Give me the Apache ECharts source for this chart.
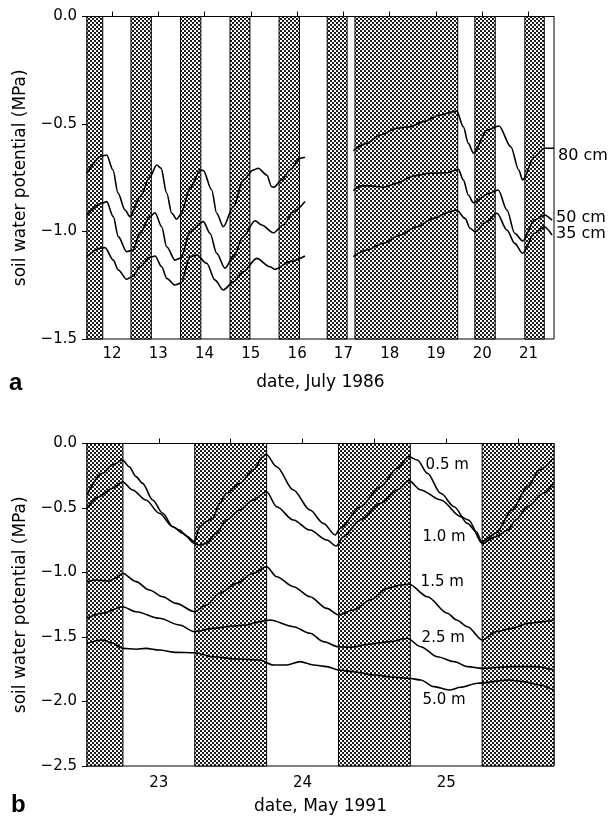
<!DOCTYPE html>
<html><head><meta charset="utf-8">
<script src="https://cdn.jsdelivr.net/npm/echarts@6/dist/echarts.min.js"></script>
<style>html,body{margin:0;padding:0;background:#fff}#c{width:616px;height:816px}</style>
</head><body><div id="c"></div>
<script>
// ---------- Panel a: July 1986 ----------
const aTickDays = [12,13,14,15,16,17,18,19,20,21];
const aNights = [[11.46,11.80],[12.41,12.85],[13.48,13.92],[14.55,14.98],[15.61,16.05],[16.65,17.08],[17.25,19.47],[19.84,20.28],[20.92,21.34]];
const a80cm_1 = [[11.46,-0.729],[11.777,-0.649],[11.885,-0.644],[12.022,-0.714],[12.13,-0.821],[12.281,-0.9],[12.389,-0.931],[12.605,-0.838],[12.821,-0.745],[12.966,-0.691],[13.059,-0.705],[13.182,-0.821],[13.29,-0.914],[13.398,-0.943],[13.491,-0.919],[13.685,-0.799],[13.91,-0.714],[13.973,-0.717],[14.154,-0.807],[14.262,-0.915],[14.405,-0.978],[14.621,-0.885],[14.837,-0.76],[15.053,-0.714],[15.161,-0.706],[15.343,-0.737],[15.451,-0.792],[15.5,-0.794],[15.667,-0.76],[15.846,-0.714],[16.062,-0.66],[16.17,-0.655]];
const a80cm_2 = [[17.214,-0.624],[17.503,-0.59],[17.791,-0.551],[18.152,-0.52],[18.439,-0.513],[18.726,-0.489],[19.087,-0.458],[19.448,-0.44],[19.591,-0.513],[19.699,-0.59],[19.811,-0.636],[20.107,-0.528],[20.362,-0.509],[20.617,-0.606],[20.788,-0.714],[20.872,-0.76],[21.127,-0.652],[21.339,-0.613],[21.55,-0.613]];
const a50cm_1 = [[11.46,-0.923],[11.777,-0.869],[11.885,-0.861],[12.028,-0.931],[12.136,-1.024],[12.318,-1.094],[12.454,-1.086],[12.605,-1.008],[12.821,-0.931],[12.929,-0.913],[13.074,-0.978],[13.182,-1.071],[13.361,-1.133],[13.491,-1.123],[13.685,-1.001],[13.973,-0.954],[14.118,-1.008],[14.262,-1.101],[14.442,-1.171],[14.621,-1.117],[14.837,-1.024],[15.09,-0.95],[15.235,-0.97],[15.485,-1.006],[15.701,-0.97],[15.917,-0.908],[16.17,-0.861]];
const a50cm_2 = [[17.214,-0.81],[17.395,-0.788],[17.575,-0.788],[17.862,-0.794],[18.152,-0.776],[18.51,-0.742],[18.871,-0.729],[19.232,-0.727],[19.483,-0.711],[19.591,-0.76],[19.699,-0.83],[19.807,-0.866],[20.15,-0.822],[20.345,-0.807],[20.533,-0.9],[20.701,-1.008],[20.872,-1.044],[21.127,-0.947],[21.339,-0.923],[21.507,-0.947]];
const a35cm_1 = [[11.46,-1.117],[11.741,-1.078],[11.849,-1.075],[12.028,-1.133],[12.136,-1.179],[12.318,-1.222],[12.454,-1.207],[12.605,-1.164],[12.821,-1.12],[12.929,-1.114],[13.074,-1.164],[13.182,-1.218],[13.361,-1.249],[13.491,-1.24],[13.685,-1.117],[13.83,-1.109],[14.046,-1.148],[14.226,-1.226],[14.405,-1.272],[14.621,-1.234],[14.837,-1.187],[15.127,-1.125],[15.414,-1.164],[15.522,-1.176],[15.846,-1.14],[16.17,-1.114]];
const a35cm_2 = [[17.214,-1.117],[17.503,-1.086],[17.862,-1.055],[18.223,-1.016],[18.584,-0.978],[18.943,-0.939],[19.303,-0.908],[19.448,-0.9],[19.628,-0.939],[19.736,-0.985],[19.844,-1.001],[20.082,-0.956],[20.319,-0.915],[20.533,-0.993],[20.701,-1.055],[20.872,-1.101],[21.127,-1.008],[21.339,-0.978],[21.507,-1.016]];

// ---------- Panel b: May 1991 ----------
const bTickDays = [23,24,25];
const bMinorTicks = [23,23.5,24,24.5,25,25.5];
const bNights = [[22.5,22.75],[23.25,23.75],[24.25,24.75],[25.25,25.75]];
const b05m = [[22.5,-0.399],[22.607,-0.231],[22.677,-0.167],[22.747,-0.128],[22.794,-0.18],[22.841,-0.257],[22.887,-0.309],[22.957,-0.438],[23.027,-0.541],[23.097,-0.645],[23.143,-0.671],[23.192,-0.717],[23.248,-0.761],[23.283,-0.645],[23.33,-0.606],[23.376,-0.58],[23.423,-0.464],[23.47,-0.386],[23.563,-0.309],[23.656,-0.205],[23.726,-0.102],[23.745,-0.081],[23.82,-0.18],[23.936,-0.36],[24.052,-0.516],[24.145,-0.619],[24.227,-0.709],[24.262,-0.657],[24.402,-0.49],[24.542,-0.335],[24.659,-0.192],[24.74,-0.102],[24.799,-0.128],[24.869,-0.231],[24.962,-0.386],[25.055,-0.49],[25.148,-0.619],[25.209,-0.684],[25.248,-0.761],[25.346,-0.696],[25.457,-0.516],[25.566,-0.335],[25.649,-0.205],[25.745,-0.115]];
const b10m = [[22.5,-0.502],[22.584,-0.412],[22.677,-0.347],[22.747,-0.296],[22.817,-0.36],[22.91,-0.438],[23.003,-0.541],[23.097,-0.645],[23.166,-0.696],[23.248,-0.774],[23.283,-0.787],[23.33,-0.774],[23.4,-0.696],[23.47,-0.593],[23.563,-0.516],[23.656,-0.438],[23.75,-0.374],[23.82,-0.49],[23.936,-0.593],[24.052,-0.671],[24.169,-0.748],[24.234,-0.795],[24.285,-0.722],[24.402,-0.593],[24.542,-0.464],[24.659,-0.36],[24.74,-0.288],[24.822,-0.36],[24.962,-0.438],[25.101,-0.567],[25.155,-0.593],[25.25,-0.774],[25.346,-0.722],[25.429,-0.671],[25.484,-0.593],[25.566,-0.49],[25.676,-0.386],[25.745,-0.309]];
const b15m = [[22.5,-1.071],[22.561,-1.058],[22.654,-1.066],[22.703,-1.043],[22.747,-1.006],[22.841,-1.071],[22.934,-1.136],[23.027,-1.188],[23.12,-1.239],[23.248,-1.304],[23.33,-1.252],[23.423,-1.161],[23.54,-1.084],[23.656,-1.006],[23.75,-0.955],[23.82,-1.033],[23.936,-1.11],[24.052,-1.188],[24.169,-1.278],[24.25,-1.329],[24.355,-1.291],[24.472,-1.213],[24.589,-1.122],[24.682,-1.097],[24.74,-1.089],[24.869,-1.188],[25.008,-1.316],[25.072,-1.368],[25.148,-1.42],[25.25,-1.523],[25.346,-1.459],[25.457,-1.433],[25.566,-1.394],[25.676,-1.381],[25.745,-1.368]];
const b25m = [[22.5,-1.355],[22.607,-1.316],[22.747,-1.265],[22.841,-1.304],[23.003,-1.355],[23.143,-1.407],[23.248,-1.459],[23.376,-1.433],[23.516,-1.415],[23.61,-1.407],[23.703,-1.381],[23.773,-1.368],[23.936,-1.42],[24.052,-1.471],[24.145,-1.536],[24.25,-1.575],[24.332,-1.58],[24.472,-1.554],[24.612,-1.536],[24.729,-1.51],[24.822,-1.575],[24.938,-1.653],[25.055,-1.691],[25.148,-1.73],[25.25,-1.743],[25.457,-1.73],[25.622,-1.73],[25.745,-1.756]];
const b50m = [[22.5,-1.549],[22.607,-1.523],[22.675,-1.547],[22.747,-1.588],[22.841,-1.595],[22.91,-1.588],[23.003,-1.601],[23.12,-1.619],[23.248,-1.622],[23.376,-1.653],[23.54,-1.671],[23.703,-1.678],[23.796,-1.717],[23.89,-1.717],[23.983,-1.691],[24.076,-1.717],[24.169,-1.73],[24.25,-1.756],[24.355,-1.769],[24.495,-1.795],[24.635,-1.812],[24.74,-1.82],[24.822,-1.833],[24.915,-1.885],[25.02,-1.911],[25.101,-1.89],[25.218,-1.859],[25.429,-1.833],[25.539,-1.846],[25.649,-1.872],[25.745,-1.911]];
const bLabelNames = ['0.5 m','1.0 m','1.5 m','2.5 m','5.0 m'];
const bLabelAnchors = [[25.007,-0.167],[24.985,-0.722],[24.972,-1.071],[24.979,-1.51],[24.985,-1.986]];

// ---------- rendering ----------
const FONT = 'DejaVu Sans';
const pc = document.createElement('canvas');
pc.width = 4; pc.height = 4;
const pctx = pc.getContext('2d');
pctx.fillStyle = '#1a1a1a'; pctx.fillRect(0,0,4,4);
pctx.fillStyle = '#fff';
// coarse checker lattice (crosshatch look)
[[0,0],[1,0],[0,1],[1,1],[2,2],[3,2],[2,3],[3,3]].forEach(p => pctx.fillRect(p[0],p[1],1,1));
const hatch = {image: pc, repeat: 'repeat'};

function fmtY(v){ const s = Math.abs(v) < 1e-9 ? '0.0' : v.toFixed(1); return s.replace('-', '\u2212'); }
function joinSeg(a, b){ return a.concat([['-','-']], b); }
function nightsArea(n){ return n.map(p => [{xAxis:p[0]}, {xAxis:p[1]}]); }

const lineBase = {type:'line', symbol:'none', smooth:0.3, smoothMonotone:'x', lineStyle:{color:'#000', width:1.6}, silent:true, z:3, connectNulls:false};
const markA = (n) => ({silent:true, label:{show:false}, emphasis:{disabled:true}, itemStyle:{color:hatch, borderColor:'#000', borderWidth:1}, data:nightsArea(n), z:1});

const chart = echarts.init(document.getElementById('c'), null, {renderer:'canvas'});
const xCommon = {type:'value', axisLine:{lineStyle:{color:'#000', width:1}}, axisTick:{inside:true, length:5, lineStyle:{color:'#000'}}, splitLine:{show:false}, axisLabel:{color:'#000', fontFamily:FONT, fontSize:15, margin:8}, nameLocation:'middle', nameTextStyle:{color:'#000', fontFamily:FONT, fontSize:17}};
const yCommon = {type:'value', max:0, interval:0.5, axisLine:{show:true, lineStyle:{color:'#000', width:1}}, axisTick:{show:true, inside:false, length:5, lineStyle:{color:'#000'}}, splitLine:{show:false}, axisLabel:{color:'#000', fontFamily:FONT, fontSize:15, margin:10, formatter:fmtY}, name:'soil water potential (MPa)', nameLocation:'middle', nameGap:58, nameTextStyle:{color:'#000', fontFamily:FONT, fontSize:17}};

const option = {
  animation:false,
  backgroundColor:'#fff',
  grid:[
    {left:87, top:16.5, width:467, height:322.5, show:true, borderColor:'#000', borderWidth:1, containLabel:false},
    {left:87, top:443.5, width:467, height:322.5, show:true, borderColor:'#000', borderWidth:1, containLabel:false}
  ],
  xAxis:[
    Object.assign({}, xCommon, {gridIndex:0, min:11.46, max:21.55, name:'date, July 1986', nameGap:35,
      axisTick:Object.assign({}, xCommon.axisTick, {customValues:aTickDays}),
      axisLabel:Object.assign({}, xCommon.axisLabel, {customValues:aTickDays, formatter:v=>String(Math.round(v))})}),
    Object.assign({}, xCommon, {gridIndex:1, min:22.5, max:25.75, name:'date, May 1991', nameGap:32,
      axisTick:Object.assign({}, xCommon.axisTick, {customValues:bMinorTicks}),
      axisLabel:Object.assign({}, xCommon.axisLabel, {customValues:bTickDays, margin:10, formatter:v=>String(Math.round(v))})})
  ],
  yAxis:[
    Object.assign({}, yCommon, {gridIndex:0, min:-1.5}),
    Object.assign({}, yCommon, {gridIndex:1, min:-2.5})
  ],
  series:[
    Object.assign({}, lineBase, {name:'80 cm', xAxisIndex:0, yAxisIndex:0, data:joinSeg(a80cm_1, a80cm_2), markArea:markA(aNights),
      endLabel:{show:true, formatter:'80 cm', color:'#000', fontFamily:FONT, fontSize:16, distance:4, offset:[0,8]}}),
    Object.assign({}, lineBase, {name:'50 cm', xAxisIndex:0, yAxisIndex:0, data:joinSeg(a50cm_1, a50cm_2),
      endLabel:{show:true, formatter:'50 cm', color:'#000', fontFamily:FONT, fontSize:16, distance:4, offset:[0,-2]}}),
    Object.assign({}, lineBase, {name:'35 cm', xAxisIndex:0, yAxisIndex:0, data:joinSeg(a35cm_1, a35cm_2),
      endLabel:{show:true, formatter:'35 cm', color:'#000', fontFamily:FONT, fontSize:16, distance:4, offset:[0,-1]}}),
    Object.assign({}, lineBase, {name:'0.5 m', xAxisIndex:1, yAxisIndex:1, data:b05m, markArea:markA(bNights)}),
    Object.assign({}, lineBase, {name:'1.0 m', xAxisIndex:1, yAxisIndex:1, data:b10m}),
    Object.assign({}, lineBase, {name:'1.5 m', xAxisIndex:1, yAxisIndex:1, data:b15m}),
    Object.assign({}, lineBase, {name:'2.5 m', xAxisIndex:1, yAxisIndex:1, data:b25m}),
    Object.assign({}, lineBase, {name:'5.0 m', xAxisIndex:1, yAxisIndex:1, data:b50m})
  ]
};
chart.setOption(option);

const graphics = [
  {type:'text', left:9, top:371, style:{text:'a', font:'bold 24px "Liberation Sans", Arial, sans-serif', fill:'#000'}},
  {type:'text', left:11, top:793, style:{text:'b', font:'bold 24px "Liberation Sans", Arial, sans-serif', fill:'#000'}}
];
bLabelNames.forEach((t,i) => {
  const p = chart.convertToPixel({gridIndex:1}, bLabelAnchors[i]);
  graphics.push({type:'text', x:p[0], y:p[1], z:10, style:{text:t, fill:'#000', font:'15px "DejaVu Sans"', align:'center', verticalAlign:'middle'}});
});
chart.setOption({graphic:graphics});
</script></body></html>
